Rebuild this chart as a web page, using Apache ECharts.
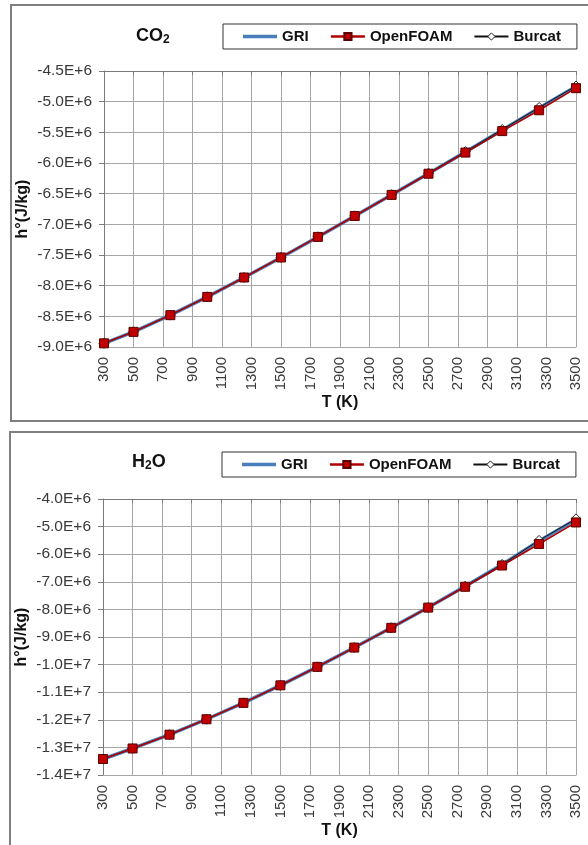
<!DOCTYPE html>
<html>
<head>
<meta charset="utf-8">
<script src="https://cdn.jsdelivr.net/npm/echarts@6/dist/echarts.min.js"></script>
<style>
html,body{margin:0;padding:0;background:#fff;}
#chart{width:588px;height:845px;}
</style>
</head>
<body>
<div id="chart"></div>
<script>
// ---- Data ----
const temps = [300, 500, 750, 1000, 1250, 1500, 1750, 2000, 2250, 2500, 2750, 3000, 3250, 3500];
const xTickLabels = ['300','500','700','900','1100','1300','1500','1700','1900','2100','2300','2500','2700','2900','3100','3300','3500'];

const co2GRI      = [-8.940e6, -8.753e6, -8.481e6, -8.183e6, -7.867e6, -7.540e6, -7.205e6, -6.864e6, -6.519e6, -6.171e6, -5.821e6, -5.462e6, -5.105e6, -4.752e6];
const co2OpenFOAM = [-8.940e6, -8.753e6, -8.481e6, -8.183e6, -7.867e6, -7.540e6, -7.205e6, -6.864e6, -6.520e6, -6.175e6, -5.830e6, -5.480e6, -5.140e6, -4.780e6];
const co2Burcat   = [-8.940e6, -8.752e6, -8.480e6, -8.182e6, -7.866e6, -7.539e6, -7.204e6, -6.862e6, -6.516e6, -6.166e6, -5.814e6, -5.455e6, -5.095e6, -4.745e6];

const h2oGRI      = [-13.420e6, -13.039e6, -12.539e6, -11.980e6, -11.387e6, -10.751e6, -10.082e6, -9.383e6, -8.667e6, -7.930e6, -7.160e6, -6.370e6, -5.520e6, -4.740e6];
const h2oOpenFOAM = [-13.420e6, -13.039e6, -12.539e6, -11.980e6, -11.387e6, -10.751e6, -10.082e6, -9.383e6, -8.667e6, -7.935e6, -7.180e6, -6.410e6, -5.630e6, -4.850e6];
const h2oBurcat   = [-13.420e6, -13.039e6, -12.539e6, -11.980e6, -11.387e6, -10.751e6, -10.082e6, -9.383e6, -8.667e6, -7.930e6, -7.160e6, -6.370e6, -5.500e6, -4.720e6];

const co2YRange = {min: -9.0e6, max: -4.5e6, interval: 0.5e6};
const h2oYRange = {min: -1.4e7, max: -4.0e6, interval: 1.0e6};

// ---- Helpers ----
const FONT = "'Liberation Sans', Arial, Helvetica, sans-serif";
const pairs = (ys) => temps.map((t, i) => [t, ys[i]]);
const fmtE = (v) => v.toExponential(1).toUpperCase();

function xAxesFor(gridIndex) {
  return [
    {
      type: 'category', gridIndex, data: xTickLabels, boundaryGap: false, position: 'bottom',
      axisLine: {show: true, lineStyle: {color: '#a6a6a6', width: 1}},
      axisTick: {show: false},
      axisLabel: {rotate: 90, margin: 10, fontSize: 15, color: '#3a3a3a', fontFamily: FONT, interval: 0},
      splitLine: {show: true, lineStyle: {color: '#a6a6a6', width: 1}},
      name: 'T (K)', nameLocation: 'middle', nameGap: 48, nameMoveOverlap: false,
      nameTextStyle: {fontSize: 16, fontWeight: 'bold', color: '#111', fontFamily: FONT}
    },
    {
      type: 'category', gridIndex, data: xTickLabels, boundaryGap: false, position: 'top',
      axisLine: {show: true, lineStyle: {color: '#7a7a7a', width: 1}},
      axisTick: {show: true, inside: true, length: 4, lineStyle: {color: '#7a7a7a'}, interval: 0},
      axisLabel: {show: false},
      splitLine: {show: false}
    },
    {
      type: 'value', gridIndex, min: 300, max: 3500, show: false
    }
  ];
}

function yAxisFor(gridIndex, r) {
  return {
    type: 'value', gridIndex, min: r.min, max: r.max, interval: r.interval,
    axisLine: {show: true, lineStyle: {color: '#7a7a7a', width: 1}},
    axisTick: {show: true, length: 5, lineStyle: {color: '#7a7a7a'}},
    axisLabel: {formatter: fmtE, fontSize: 15.5, color: '#3a3a3a', fontFamily: FONT, margin: 12},
    splitLine: {show: true, lineStyle: {color: '#a6a6a6', width: 1}},
    name: 'h°(J/kg)', nameLocation: 'middle', nameGap: 73, nameMoveOverlap: false,
    nameTextStyle: {fontSize: 16, fontWeight: 'bold', color: '#111', fontFamily: FONT}
  };
}

function seriesFor(gridIdx, gri, of, bc) {
  const xi = gridIdx * 3 + 2;
  return [
    {name: 'GRI', type: 'line', xAxisIndex: xi, yAxisIndex: gridIdx, data: pairs(gri),
     symbol: 'none', lineStyle: {color: '#4a7ebb', width: 3.5}, itemStyle: {color: '#4a7ebb'}, z: 2, animation: false},
    {name: 'Burcat', type: 'line', xAxisIndex: xi, yAxisIndex: gridIdx, data: pairs(bc),
     symbol: 'diamond', symbolSize: 10, showSymbol: true,
     lineStyle: {color: '#111', width: 1}, itemStyle: {color: '#fff', borderColor: '#222', borderWidth: 1}, z: 3, animation: false},
    {name: 'OpenFOAM', type: 'line', xAxisIndex: xi, yAxisIndex: gridIdx, data: pairs(of),
     symbol: 'rect', symbolSize: 9, showSymbol: true,
     lineStyle: {color: '#b00000', width: 1.5}, itemStyle: {color: '#c00000', borderColor: '#5a0000', borderWidth: 1}, z: 4, animation: false}
  ];
}

function legendFor(top, left) {
  return {
    data: [
      {name: 'GRI', icon: 'path://M0,0 H34 V3.5 H0 Z'},
      {name: 'OpenFOAM', lineStyle: {width: 2.5}},
      {name: 'Burcat', itemStyle: {borderWidth: 1}}
    ],
    left, top,
    orient: 'horizontal',
    itemWidth: 34, itemHeight: 9, itemGap: 21,
    padding: [5, 16, 5, 20],
    borderColor: '#333', borderWidth: 1, backgroundColor: '#fff',
    textStyle: {fontSize: 15, fontWeight: 'bold', color: '#111', fontFamily: FONT},
    selectedMode: false
  };
}

const titleRich = {
  a: {fontSize: 18, fontWeight: 'bold', color: '#111', fontFamily: FONT},
  b: {fontSize: 12, fontWeight: 'bold', color: '#111', fontFamily: FONT, padding: [8, 0, 0, 0]}
};

const option = {
  backgroundColor: '#fff',
  animation: false,
  graphic: [
    {type: 'rect', shape: {x: 11, y: 5, width: 620, height: 416}, style: {fill: null, stroke: '#7f7f7f', lineWidth: 2}, z: 0, silent: true},
    {type: 'rect', shape: {x: 10, y: 432, width: 620, height: 440}, style: {fill: null, stroke: '#7f7f7f', lineWidth: 2}, z: 0, silent: true}
  ],
  title: [
    {text: '{a|CO}{b|2}', left: 131, top: 21, textStyle: {rich: titleRich}},
    {text: '{a|H}{b|2}{a|O}', left: 127, top: 447, textStyle: {rich: titleRich}}
  ],
  legend: [legendFor(24, 223), legendFor(452, 222)],
  grid: [
    {left: 104, top: 71, width: 472, height: 276, containLabel: false},
    {left: 103, top: 499, width: 473, height: 276, containLabel: false}
  ],
  xAxis: [...xAxesFor(0), ...xAxesFor(1)],
  yAxis: [yAxisFor(0, co2YRange), yAxisFor(1, h2oYRange)],
  series: [
    ...seriesFor(0, co2GRI, co2OpenFOAM, co2Burcat),
    ...seriesFor(1, h2oGRI, h2oOpenFOAM, h2oBurcat)
  ]
};

const chart = echarts.init(document.getElementById('chart'), null, {renderer: 'canvas'});
chart.setOption(option);
</script>
</body>
</html>
